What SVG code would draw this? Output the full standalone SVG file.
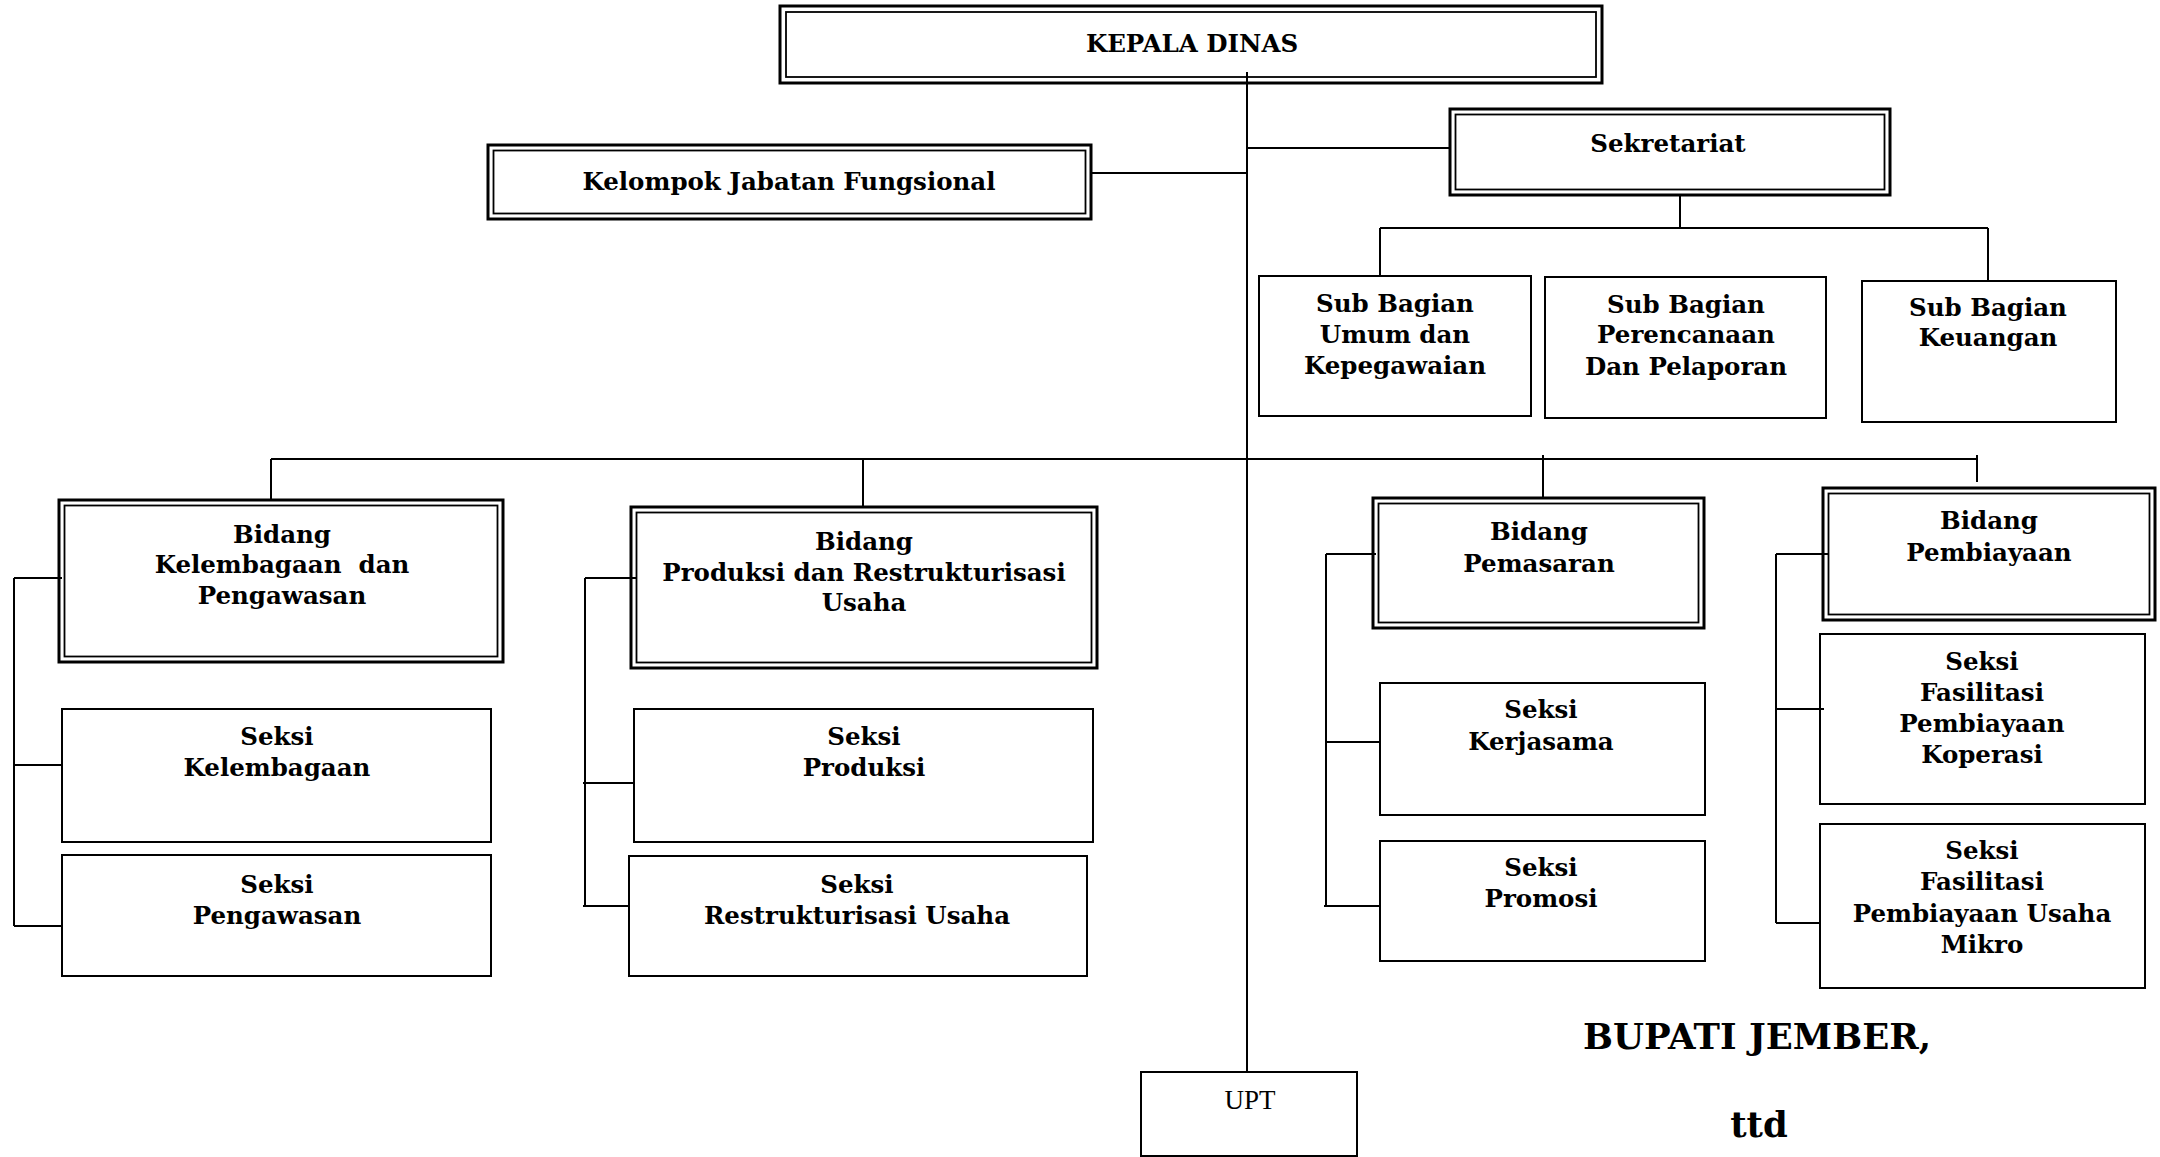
<svg xmlns="http://www.w3.org/2000/svg" width="2160" height="1157" viewBox="0 0 2160 1157">
<style>
.bg{fill:#fff}
.box{fill:#fff;stroke:#000;stroke-width:2}
.dout{fill:#fff;stroke:#000;stroke-width:3}
.din{fill:none;stroke:#000;stroke-width:1.8}
.t{font-family:"DejaVu Serif","Liberation Serif",serif;font-weight:bold;font-size:24.5px;text-anchor:middle;fill:#000}
.big{font-size:35.5px}
.upt{font-family:"Liberation Serif","DejaVu Serif",serif;font-size:27px;text-anchor:middle;fill:#000}
.ln{stroke:#000;stroke-width:2;fill:none}
</style>
<rect class="bg" x="0" y="0" width="2160" height="1157"/>

<g id="kepala-dinas">
<rect class="dout" x="780" y="6" width="822" height="77"/>
<rect class="din" x="786" y="12" width="810" height="65"/>
<text class="t" x="1192" y="52">KEPALA DINAS</text>
</g>

<g id="kelompok-jabatan-fungsional">
<rect class="dout" x="488" y="145" width="603" height="74"/>
<rect class="din" x="493.5" y="150.5" width="592" height="63"/>
<text class="t" x="789" y="190">Kelompok Jabatan Fungsional</text>
</g>

<g id="sekretariat">
<rect class="dout" x="1450" y="109" width="440" height="86"/>
<rect class="din" x="1455.5" y="114.5" width="429" height="75"/>
<text class="t" x="1668" y="152">Sekretariat</text>
</g>

<g id="sub-bagian-umum">
<rect class="box" x="1259" y="276" width="272" height="140"/>
<text class="t" x="1395" y="312">Sub Bagian</text>
<text class="t" x="1395" y="343">Umum dan</text>
<text class="t" x="1395" y="374">Kepegawaian</text>
</g>

<g id="sub-bagian-perencanaan">
<rect class="box" x="1545" y="277" width="281" height="141"/>
<text class="t" x="1686" y="313">Sub Bagian</text>
<text class="t" x="1686" y="343">Perencanaan</text>
<text class="t" x="1686" y="375">Dan Pelaporan</text>
</g>

<g id="sub-bagian-keuangan">
<rect class="box" x="1862" y="281" width="254" height="141"/>
<text class="t" x="1988" y="316">Sub Bagian</text>
<text class="t" x="1988" y="346">Keuangan</text>
</g>

<g id="bidang-kelembagaan">
<rect class="dout" x="59" y="500" width="444" height="162"/>
<rect class="din" x="64.5" y="505.5" width="433" height="151"/>
<text class="t" x="282" y="543">Bidang</text>
<text class="t" x="282" y="573" xml:space="preserve">Kelembagaan  dan</text>
<text class="t" x="282" y="604">Pengawasan</text>
</g>

<g id="seksi-kelembagaan">
<rect class="box" x="62" y="709" width="429" height="133"/>
<text class="t" x="277" y="745">Seksi</text>
<text class="t" x="277" y="776">Kelembagaan</text>
</g>

<g id="seksi-pengawasan">
<rect class="box" x="62" y="855" width="429" height="121"/>
<text class="t" x="277" y="893">Seksi</text>
<text class="t" x="277" y="924">Pengawasan</text>
</g>

<g id="bidang-produksi">
<rect class="dout" x="631" y="507" width="466" height="161"/>
<rect class="din" x="636.5" y="512.5" width="455" height="150"/>
<text class="t" x="864" y="550">Bidang</text>
<text class="t" x="864" y="581">Produksi dan Restrukturisasi</text>
<text class="t" x="864" y="611">Usaha</text>
</g>

<g id="seksi-produksi">
<rect class="box" x="634" y="709" width="459" height="133"/>
<text class="t" x="864" y="745">Seksi</text>
<text class="t" x="864" y="776">Produksi</text>
</g>

<g id="seksi-restrukturisasi">
<rect class="box" x="629" y="856" width="458" height="120"/>
<text class="t" x="857" y="893">Seksi</text>
<text class="t" x="857" y="924">Restrukturisasi Usaha</text>
</g>

<g id="bidang-pemasaran">
<rect class="dout" x="1373" y="498" width="331" height="130"/>
<rect class="din" x="1378.5" y="503.5" width="320" height="119"/>
<text class="t" x="1539" y="540">Bidang</text>
<text class="t" x="1539" y="572">Pemasaran</text>
</g>

<g id="seksi-kerjasama">
<rect class="box" x="1380" y="683" width="325" height="132"/>
<text class="t" x="1541" y="718">Seksi</text>
<text class="t" x="1541" y="750">Kerjasama</text>
</g>

<g id="seksi-promosi">
<rect class="box" x="1380" y="841" width="325" height="120"/>
<text class="t" x="1541" y="876">Seksi</text>
<text class="t" x="1541" y="907">Promosi</text>
</g>

<g id="bidang-pembiayaan">
<rect class="dout" x="1823" y="488" width="332" height="132"/>
<rect class="din" x="1828.5" y="493.5" width="321" height="121"/>
<text class="t" x="1989" y="529">Bidang</text>
<text class="t" x="1989" y="561">Pembiayaan</text>
</g>

<g id="seksi-fasilitasi-koperasi">
<rect class="box" x="1820" y="634" width="325" height="170"/>
<text class="t" x="1982" y="670">Seksi</text>
<text class="t" x="1982" y="701">Fasilitasi</text>
<text class="t" x="1982" y="732">Pembiayaan</text>
<text class="t" x="1982" y="763">Koperasi</text>
</g>

<g id="seksi-fasilitasi-mikro">
<rect class="box" x="1820" y="824" width="325" height="164"/>
<text class="t" x="1982" y="859">Seksi</text>
<text class="t" x="1982" y="890">Fasilitasi</text>
<text class="t" x="1982" y="922">Pembiayaan Usaha</text>
<text class="t" x="1982" y="953">Mikro</text>
</g>

<g id="upt">
<rect class="box" x="1141" y="1072" width="216" height="84"/>
<text class="upt" x="1250" y="1109">UPT</text>
</g>

<g id="signature">
<text class="t big" x="1757" y="1049">BUPATI JEMBER,</text>
<text class="t big" x="1759" y="1137">ttd</text>
</g>

<g id="connectors" class="ln">
<path d="M1247 72 V1072"/>
<path d="M1091 173 H1247"/>
<path d="M1247 148 H1450"/>
<path d="M1680 195 V228 M1380 228 H1988 M1380 228 V276 M1988 228 V282"/>
<path d="M271 459 H1977 M271 459 V500 M863 459 V507 M1543 455 V498 M1977 455 V482"/>
<path d="M14 578 V926 M14 578 H62 M14 765 H62 M14 926 H62"/>
<path d="M585 578 V906 M585 578 H636 M583 783 H634 M583 906 H629"/>
<path d="M1326 554 V906 M1326 554 H1376 M1326 742 H1380 M1324 906 H1380"/>
<path d="M1776 554 V923 M1776 554 H1828 M1776 709 H1824 M1776 923 H1820"/>
</g>
</svg>
